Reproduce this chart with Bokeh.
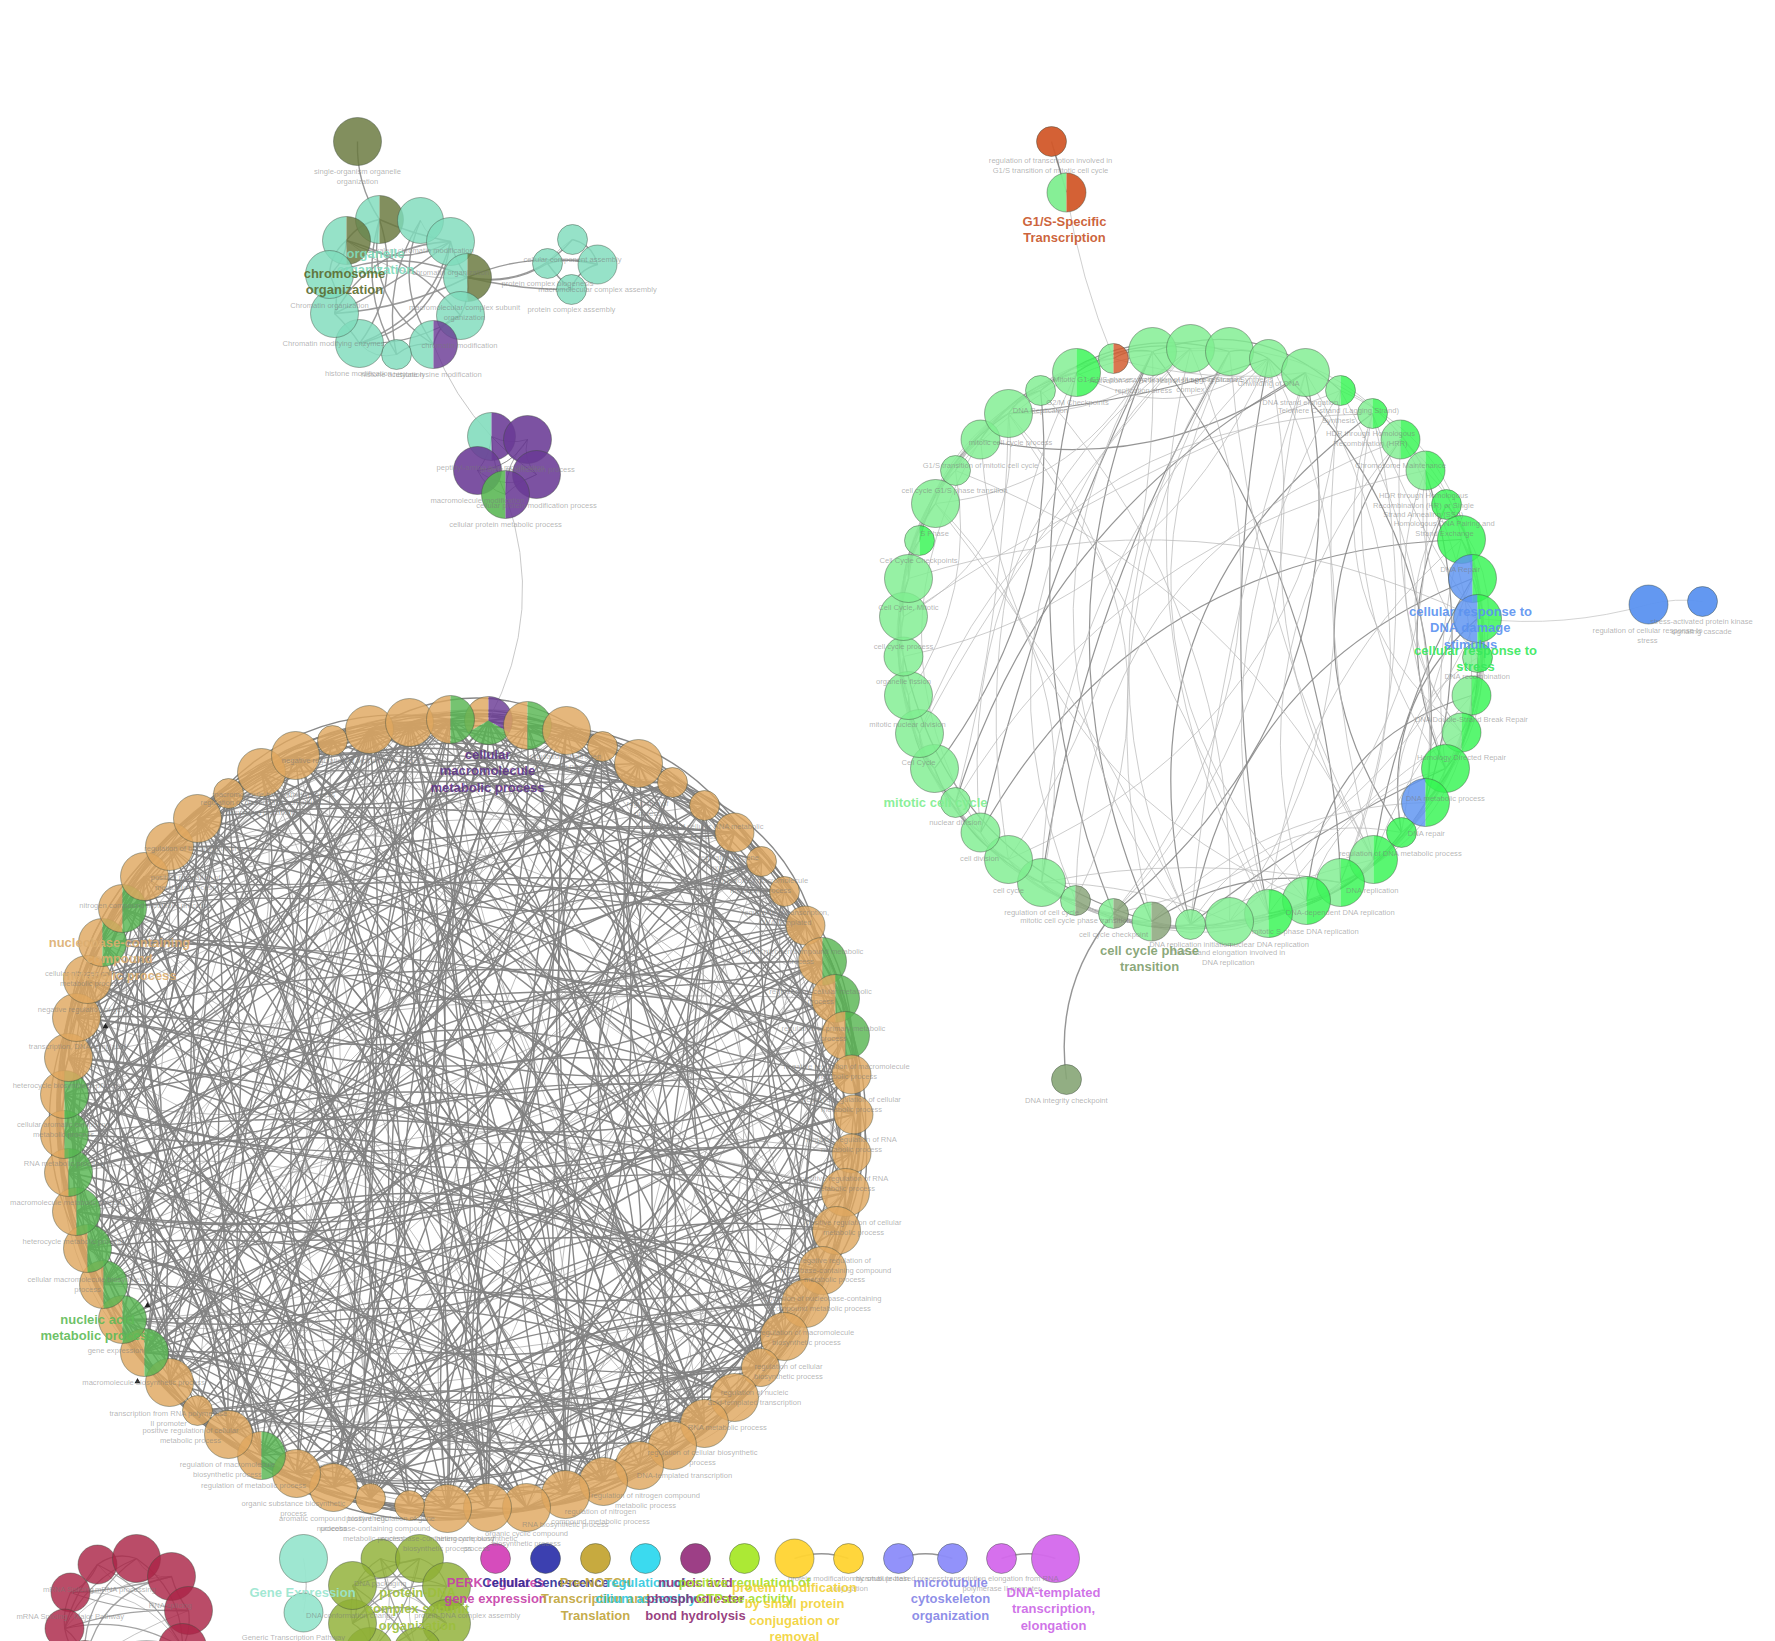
from math import pi, hypot
from bokeh.plotting import figure
from bokeh.models import Range1d, ColumnDataSource
from bokeh.core.properties import value
from bokeh.embed import file_html
from bokeh.resources import INLINE

TAN = "#dfa75f"; GRN = "#58b652"; PUR = "#6a3a95"; LGT = "#7fee90"; BRT = "#35f552"
BLU = "#5b92f0"; GRY = "#86a276"; ORG = "#d2582a"; MNT = "#7fdcbc"; OLV = "#66763a"

TAN_X = [488,527,566,602,638,672,704,734,761,784,805,822,835,845,851,853,851,845,836,822,805,784,760,734,704,672,639,603,565,526,487,447,409,370,333,296,261,228,197,169,144,122,103,87,76,68,64,64,68,76,87,102,122,144,169,197,228,261,295,332,369,409,450]
TAN_Y = [720,725,730,746,763,782,805,832,861,891,925,961,998,1035,1074,1114,1153,1192,1230,1270,1303,1336,1367,1397,1423,1445,1465,1481,1494,1507,1507,1508,1505,1498,1487,1473,1455,1434,1410,1382,1352,1319,1284,1248,1211,1172,1134,1094,1057,1017,979,942,908,876,846,818,793,772,755,740,729,722,719]
TAN_R = [24,24,24,15,24,15,15,19.5,15,15,19.5,24,24,24,19.5,19.5,19.5,24,24,24,24,24,19,24,24,24,24,24,24,24,24,24,15,15,24,24,24,24,15,24,24,24,24,24,24,24,24,24,24,24,24,24,24,24,24,24,15,24,24,15,24,24,24]
TAN_PIES = {0:[TAN,GRN,PUR],1:[TAN,GRN],11:[TAN,GRN],12:[TAN,GRN],13:[TAN,GRN],36:[TAN,GRN],40:[TAN,GRN],41:[TAN,GRN],42:[TAN,GRN],43:[TAN,GRN],44:[TAN,GRN],45:[TAN,GRN],46:[TAN,GRN],47:[TAN,GRN],51:[TAN,GRN],52:[TAN,GRN],62:[TAN,GRN]}
TAN_LINKS = [
[7,19,33,41,52,24,14,9,28,47],[12,27,38,50,6,17,31,44,59],[9,14,23,30,36,48,53,61,19,41,5,27],[13,21,29,37,44,56,60,25,10,34,18],[10,18,26,35,42,51,58,31,15,47,22],[11,20,28,39,46,55,16,33,62,24],[15,24,32,40,49,57,12,36,8,29],[17,25,34,43,54,61,21,38,10],[19,30,37,45,52,60,14,27,11],[16,22,31,41,50,59,26,36,13],
[18,27,35,44,53,62,23,39,14],[20,29,38,47,56,15,33,24,43],[21,30,40,49,58,17,35,26],[23,32,42,51,60,19,37,28,15],[24,33,41,50,59,20,28,45,18],[26,35,43,52,61,18,30,47],[27,36,45,54,62,22,39,19],[28,37,46,55,23,40,20,32],[29,38,48,57,25,42,21],[31,40,50,59,26,44,22],
[32,41,51,60,27,46,24,37],[33,42,53,61,28,48,25],[34,44,54,62,30,49,26],[35,45,56,31,51,28,41],[36,47,57,33,52,27,42],[38,48,58,34,54,29],[39,49,59,35,55,30,44],[40,50,60,36,57,31],[41,52,61,37,58,32,46],[42,53,62,38,59,33],
[43,54,39,60,34,48],[44,55,40,61,35,50],[45,56,41,62,36],[46,57,42,37,52],[47,58,43,38,55],[48,59,44,39,53],[49,60,45,40,56],[50,61,46,41,58],[51,62,47,42,57],[52,48,43,60],
[53,49,44,61],[54,50,45,62],[55,51,46,59],[56,52,47,60],[57,53,48,61],[58,54,49],[59,55,50,62],[60,56,51],[61,57,52],[62,58,53],
[59,54],[60,55],[61,56],[62,57],[58,60],[59,61],[60,62],[61],[62],[],[],[],[]]
TAN_LINKS_B = [
[3,5,58,60,16,37,44,26],[4,8,55,62,20,40,11,35],[6,10,56,59,22,43,33],[7,12,54,61,24,39,47,30],[8,14,57,62,28,45,37],[9,17,53,60,31,41,49],[10,19,51,58,35,44,27],[11,22,49,62,30,46,52],[12,24,47,56,33,40,55],[13,26,45,54,36,62,42],
[15,28,43,52,37,48,58],[16,30,41,50,39,57],[17,33,39,48,44,60],[18,35,38,46,53,61],[19,36,37,44,55,62],[20,39,34,42,57,25],[21,41,33,40,59,29],[22,43,31,38,61,27],[23,45,29,36,62,33],[24,47,28,35,54,41],
[25,49,30,34,56,43],[26,51,29,38,58,45],[27,52,31,39,60,47],[28,55,32,40,62,49],[29,58,34,43,50,61],[30,60,37,45,53],[31,61,36,47,55],[32,62,38,49,56],[33,60,40,50,57],[34,59,43,51,54],
[35,58,45,52,56],[36,57,47,53,60],[37,55,48,54,61],[38,56,49,53,62],[39,54,50,57,60],[40,52,51,58,61],[41,53,48,59,62],[42,51,46,60],[43,50,45,61],[44,49,55,62],
[45,48,57,60],[46,49,58,61],[47,50,56,62],[48,52,57],[49,53,59],[50,54,60],[51,55,61],[52,56,62],[53,59],[54,60],
[55,61],[56,62],[57,59],[60,62],[61],[62],[61],[],[],[],[],[],[]]

GREEN_X = [1152,1190,1229,1268,1305,1340,1372,1400,1425,1446,1461,1472,1477,1477,1471,1461,1445,1425,1401,1373,1340,1306,1268,1229,1190,1151,1113,1075,1041,1008,980,955,934,919,908,903,903,908,919,935,955,980,1008,1040,1076,1113]
GREEN_Y = [351,348,351,358,372,390,413,439,470,504,539,578,618,657,695,732,768,802,832,859,882,900,913,921,924,921,913,900,882,859,832,802,768,733,695,656,616,578,540,503,470,439,413,390,372,358]
GREEN_R = [24,24,24,19,24,15,15,19.5,19.5,15,24,24,24,15,19.5,19.5,24,24,15,24,24,24,24,24,15,19.5,15,15,24,24,19.5,15,24,24,24,19.5,24,24,15,24,15,19.5,24,15,24,15]
GREEN_PIES = {5:[LGT,BRT],6:[LGT,BRT],7:[LGT,BRT],8:[LGT,BRT],9:[BRT],10:[BRT],11:[BLU,BRT],12:[BLU,BRT],13:[LGT,BRT],14:[LGT,BRT],15:[LGT,BRT],16:[BRT],17:[BLU,BRT],18:[BRT],19:[LGT,BRT],20:[LGT,BRT],21:[LGT,BRT],22:[LGT,BRT],25:[LGT,GRY],26:[LGT,GRY],27:[LGT,GRY],38:[LGT,BRT],44:[LGT,BRT],45:[LGT,ORG]}
GREEN_LINKS = [
[20,24,30,5],[22,27,33,8],[21,25,19,3],[17,23,28,35],[20,26,31,8],[19,22,29,36],[16,20,24,33],[14,18,21,27],[15,13,23,31],[12,16,14],
[14,17,12,22,30],[13,15,19,24],[14,16,18,26,37],[15,17],[16,19,21],[17,18,23],[18,20],[19,21,25],[20,22],[21,23,40],
[22,24,28],[23,26,41],[24,29,42],[25,27,43],[26,39],[26,27,35],[27,28,44],[28,29,42],[29,30,39],[30,31,44],
[31,33,41],[32,34,42],[33,35,43],[34,36],[35,37,40],[36,38,41],[37,39,42],[38,40,44],[39,41],[40,42,0],
[41,43,2],[42,44,4],[43,1,3],[44,0],[45,1],[0]]
GREEN_LINKS_B = [
[25,29],[26,30],[24,28],[22,26],[19,24],[11,17],[12,15],[10,16],[11,17],[11,15],
[13,16],[15,18],[15,17],[17,18],[18,20],[19,22],[21,24],[20,23],[24],[24],
[25],[25],[26],[28],[28],[29],[30],[31],[32],[33],
[34],[35],[36],[37],[38],[39],[40],[41],[42],[43],[44],[45],[45],[2],[3],[4]]

MINT_X = [379,346,420,450,467,460,433,396,359,334,329,357,572,547,597,571]
MINT_Y = [219,240,220,241,277,315,344,354,343,313,274,141,239,263,264,289]
MINT_R = [24,24,23,24,24,24,24,15,24,24,24,24,15,15,19.5,15]
MINT_PIES = {0:[MNT,OLV],1:[MNT,OLV],4:[MNT,OLV],6:[MNT,PUR],11:[OLV]}
MINT_LINKS = [[11,8,1,3,6,7],[4,5,3,10],[3,6,7],[4,8,9],[5,12,13,14,15,10],[6,8],[7],[8],[9,3],[10,3,4],[1],[],[13,14],[14,15],[15],[]]

PURPLE_X = [491,527,477,536,505]
PURPLE_Y = [436,439,470,474,494]
PURPLE_R = [24,24,24,24,24]
PURPLE_PIES = {0:[MNT,PUR],1:[PUR],2:[PUR],3:[PUR],4:[GRN,PUR]}
PURPLE_LINKS = [[1,2,3,4],[2,3,4],[3,4],[4],[]]

G1S_X = [1051,1066]; G1S_Y = [141,192]; G1S_R = [15,19.5]; G1S_PIES = {0:[ORG],1:[LGT,ORG]}
BLUE_X = [1648,1702]; BLUE_Y = [604,601]; BLUE_R = [19.5,15]; BLUE_PIES = {0:[BLU],1:[BLU]}
CHECK_X = [1066]; CHECK_Y = [1079]; CHECK_R = [15]; CHECK_PIES = {0:["#86a576"]}

ROW_X = [495,545,595,645,695,744,794,848,898,952,1001,1055]
ROW_Y = [1558,1558,1558,1558,1558,1558,1558,1558,1558,1558,1558,1558]
ROW_R = [15,15,15,15,15,15,19.5,15,15,15,15,24]
ROW_COL = ["#d442b8","#3236ac","#c4a535","#30d8ee","#98357f","#a8e82a","#ffd432","#ffd432","#8c8cfa","#8c8cfa","#d468ec","#d468ec"]
ROW_LINKS = [(6,7),(8,9),(10,11)]

CRIM_X = [70,97,136,171,188,182,84,64]
CRIM_Y = [1592,1564,1558,1576,1610,1647,1664,1628]
CRIM_R = [19.5,19.5,24,24,24,24,24,19.5]
CRIM_LINKS = [[1,3,4,5,6],[2,4,5,7],[3,5,6,7],[4,6,7],[5,6,7],[6,7],[7],[]]
CRIM_COL = "#ab2447"

OLIVE_X = [380,419,446,446,417,369,352,352]
OLIVE_Y = [1558,1558,1586,1623,1651,1651,1623,1585]
OLIVE_R = [19.5,24,24,24,24,24,24,24]
OLIVE_LINKS = [[1,3,4,5,6],[2,4,5,6,7],[3,5,6,7],[4,6,7],[5,7],[6,7],[7],[]]
OLIVE_COL = "#8fb034"

GENE_X = [303,303]; GENE_Y = [1558,1612]; GENE_R = [24,19.5]; GENE_COL = "#99e6cf"

ARROW_X = [105,147,137]; ARROW_Y = [1026,1305,1381]

GRAY_LABELS = [
("single-organism organelle\norganization",357,171),("covalent chromatin modification",420,250),("chromatin organization",450,272),("Chromatin organization",329,305),("macromolecular complex subunit\norganization",464,307),("Chromatin modifying enzymes",333,343),("chromatin modification",459,345),("histone modification",358,373),("histone acetylation",392,374),("histone lysine modification",437,374),
("cellular component assembly",572,259),("protein complex biogenesis",547,283),("macromolecular complex assembly",597,289),("protein complex assembly",571,309),
("peptidyl-amino acid modification",490,467),("protein modification process",527,469),("macromolecule modification",477,500),("cellular protein modification process",536,505),("cellular protein metabolic process",505,524),
("regulation of transcription involved in\nG1/S transition of mitotic cell cycle",1050,160),
("negative regulation of biosynthetic process",353,760),("macromolecule biosynthetic process",273,794),("regulation of nucleobase-containing\ncompound metabolic",260,802),("regulation of biosynthetic process",200,848),("positive regulation of\nmetabolic process",185,877),("nitrogen compound metabolic process",143,905),("cellular nitrogen compound\nmetabolic process",90,973),("negative regulation of gene",83,1009),("transcription, DNA-templated",77,1046),("heterocycle biosynthetic process",67,1085),("cellular aromatic compound\nmetabolic process",63,1124),("RNA metabolic process",63,1163),
("macromolecule metabolic process",67,1202),("heterocycle metabolic process",73,1241),("cellular macromolecule biosynthetic\nprocess",87,1279),("gene expression",115,1350),("macromolecule biosynthetic process",143,1382),("transcription from RNA polymerase\nII promoter",168,1413),("positive regulation of cellular\nmetabolic process",190,1430),("regulation of macromolecule\nbiosynthetic process",227,1464),("regulation of metabolic process",253,1485),("organic substance biosynthetic\nprocess",293,1503),("aromatic compound biosynthetic\nprocess",333,1518),("nucleobase-containing compound\nmetabolic process",373,1528),("positive regulation of gene",390,1518),("nucleobase-containing compound\nbiosynthetic process",437,1538),
("regulation of nitrogen\nmetabolic process",565,756),("regulation of\nprocess",647,803),("regulation of cellular RNA metabolic\nprocess",703,826),("regulation of gene\nexpression",728,857),("regulation of macromolecule\nmetabolic process",760,880),("regulation of transcription,\nDNA-templated",785,912),("cellular nitrogen compound metabolic\nprocess",800,951),("regulation of cellular metabolic\nprocess",820,991),("regulation of primary metabolic\nprocess",833,1028),("negative regulation of macromolecule\nmetabolic process",846,1066),("negative regulation of cellular\nmetabolic process",851,1099),("negative regulation of RNA\nmetabolic process",851,1139),("positive regulation of RNA\nmetabolic process",844,1178),("positive regulation of cellular\nmetabolic process",853,1222),("negative regulation of\nnucleobase-containing compound\nmetabolic process",834,1260),("regulation of nucleobase-containing\ncompound metabolic process",821,1298),("regulation of macromolecule\nbiosynthetic process",806,1332),("regulation of cellular\nbiosynthetic process",788,1366),("regulation of nucleic\nacid-templated transcription",754,1392),("RNA metabolic process",727,1427),("regulation of cellular biosynthetic\nprocess",702,1452),("DNA-templated transcription",684,1475),("regulation of nitrogen compound\nmetabolic process",645,1495),("regulation of nitrogen\ncompound metabolic process",600,1511),("RNA biosynthetic process",565,1524),("organic cyclic compound\nbiosynthetic process",526,1533),("heterocycle biosynthetic\nprocess",476,1538),
("protein modification by small protein\nconjugation",848,1578),("microtubule-based process",898,1578),("transcription elongation from RNA\npolymerase II promoter",1001,1578),
("Mitotic G1-G1/S phases",1093,379),("Activation of ATR in response to\nreplication stress",1143,380),("Activation of the pre-replicative\ncomplex",1190,379),("Lagging Strand Synthesis",1229,379),("Unwinding of DNA",1268,383),("G2/M Checkpoints",1077,402),("DNA Replication",1040,410),("mitotic cell cycle process",1010,442),("G1/S transition of mitotic cell cycle",980,465),("cell cycle G1/S phase transition",954,490),("S Phase",934,533),("Cell Cycle Checkpoints",918,560),("Cell Cycle, Mitotic",908,607),("cell cycle process",903,646),("organelle fission",903,681),("mitotic nuclear division",907,724),("Cell Cycle",918,762),("nuclear division",955,822),("cell division",979,858),("cell cycle",1008,890),("regulation of cell cycle",1041,912),("mitotic cell cycle phase transition",1075,920),("cell cycle checkpoint",1113,934),("DNA replication initiation",1190,944),("nuclear DNA replication",1269,944),("DNA strand elongation involved in\nDNA replication",1228,952),("mitotic S-phase DNA replication",1305,931),("DNA-dependent DNA replication",1340,912),("DNA replication",1372,890),("regulation of DNA metabolic process",1400,853),("DNA repair",1426,833),("DNA metabolic process",1445,798),("Homology Directed Repair",1461,757),("DNA Double-Strand Break Repair",1471,719),("DNA recombination",1477,676),("DNA Repair",1460,569),("Homologous DNA Pairing and\nStrand Exchange",1444,523),("HDR through Homologous\nRecombination (HR) or Single\nStrand Annealing (SSA)",1423,495),("Chromosome Maintenance",1400,465),("HDR through Homologous\nRecombination (HRR)",1370,433),("Telomere C-strand (Lagging Strand)\nSynthesis",1338,410),("DNA strand elongation",1300,402),
("regulation of cellular response to\nstress",1647,630),("stress-activated protein kinase\nsignaling cascade",1701,621),("DNA integrity checkpoint",1066,1100),
("mRNA Splicing",68,1589),("mRNA processing",125,1589),("RNA splicing",170,1605),("mRNA Splicing - Major Pathway",70,1616),("DNA packaging",380,1583),("DNA conformation change",350,1615),("protein-DNA complex assembly",467,1615),("Generic Transcription Pathway",293,1637),
]

BIG_LABELS = [
("organelle\norganization",375,253,MNT),("chromosome\norganization",344,273,"#5c6c30"),("G1/S-Specific\nTranscription",1064,221,"#c8552a"),
("cellular\nmacromolecule\nmetabolic process",487,754,"#5f3488"),("nucleobase-containing\ncompound\nmetabolic process",119,942,"#dcae70"),("nucleic acid\nmetabolic process",97,1319,"#5fbb58"),
("mitotic cell cycle",935,802,"#7fee90"),("cell cycle phase\ntransition",1149,950,"#7fa06e"),("cellular response to\nDNA damage\nstimulus",1470,611,"#5b92f0"),("cellular response to\nstress",1475,650,"#38e85c"),
("Gene Expression",302,1592,"#99e6cf"),("protein-DNA\ncomplex subunit\norganization",417,1592,"#9cbf3c"),
("PERK regulates\ngene expression",495,1582,"#c63fa8"),("Cellular Senescence",545,1582,"#2e2e96"),("Pre-NOTCH\nTranscription and\nTranslation",595,1582,"#bfa43a"),("regulation of\ncilium assembly",645,1582,"#30c8de"),("nucleic acid\nphosphodiester\nbond hydrolysis",695,1582,"#8f2f75"),("positive regulation of\nGTPase activity",744,1582,"#a4de2a"),("protein modification\nby small protein\nconjugation or\nremoval",794,1587,"#f2d238"),("microtubule\ncytoskeleton\norganization",950,1582,"#8484e6"),("DNA-templated\ntranscription,\nelongation",1053,1592,"#cc66e6"),
]

p = figure(width=1775, height=1641, x_range=Range1d(0, 1775), y_range=Range1d(1641, 0),
           toolbar_location=None, output_backend="svg", min_border=0, outline_line_color=None,
           background_fill_color="white", border_fill_color="white")
p.axis.visible = False
p.grid.visible = False

BOWS = [0.28, -0.16, 0.10, 0.34, -0.26, 0.20, 0.06, -0.30, 0.22]

def curve(x0, y0, x1, y1, b):
    d = hypot(x1 - x0, y1 - y0) or 1
    nx, ny = -(y1 - y0) / d, (x1 - x0) / d
    return (x0 + x1) / 2 + nx * d * b, (y0 + y1) / 2 + ny * d * b

def draw_links(xs, ys, links, heavy, light, hw=1.5, lw=0.8, ha=0.9, la=0.8, round_center=None):
    groups = {True: [[], [], [], [], [], []], False: [[], [], [], [], [], []]}
    for i, targets in enumerate(links):
        for j in targets:
            b = BOWS[(i * 3 + j * 5) % len(BOWS)]
            x0, y0, x1, y1 = xs[i], ys[i], xs[j], ys[j]
            if round_center:
                d = hypot(x1 - x0, y1 - y0)
                mx, my = (x0 + x1) / 2, (y0 + y1) / 2
                cxx, cyy = curve(x0, y0, x1, y1, 0.2)
                out = hypot(cxx - round_center[0], cyy - round_center[1]) > hypot(mx - round_center[0], my - round_center[1])
                if d < 0.55 * round_center[2]:
                    b = 0.2 if out else -0.2
            cx, cy = curve(x0, y0, x1, y1, b)
            g = groups[(i + j) % 5 != 0]
            for lst, v in zip(g, (x0, y0, x1, y1, cx, cy)):
                lst.append(v)
    for is_heavy, col, w, a in ((False, light, lw, la), (True, heavy, hw, ha)):
        g = groups[is_heavy]
        p.quadratic(x0=g[0], y0=g[1], x1=g[2], y1=g[3], cx=g[4], cy=g[5], line_color=col, line_width=w, line_alpha=a)

def link(xa, ya, xb, yb, b, col, w):
    cx, cy = curve(xa, ya, xb, yb, b)
    p.quadratic(x0=[xa], y0=[ya], x1=[xb], y1=[yb], cx=[cx], cy=[cy], line_color=col, line_width=w, line_alpha=0.9)

def draw_nodes(xs, ys, rs, pies, default, alpha=0.82):
    for i, (x, y, r) in enumerate(zip(xs, ys, rs)):
        cols = pies.get(i, [default])
        n = len(cols)
        if n == 1:
            p.circle(x=[x], y=[y], radius=[r], fill_color=cols[0], fill_alpha=alpha, line_color=None)
        else:
            for k, c in enumerate(cols):
                a0 = pi / 2 + 2 * pi * k / n
                p.wedge(x=[x], y=[y], radius=[r], start_angle=[a0], end_angle=[a0 + 2 * pi / n],
                        direction="anticlock", fill_color=c, fill_alpha=alpha, line_color=None)
        p.circle(x=[x], y=[y], radius=[r], fill_color=None, line_color="#3c4a3c", line_alpha=0.55, line_width=0.8)

def draw_labels(items, size, style, lh, color=None, alpha=0.75):
    tx, ty, tt, tc = [], [], [], []
    for it in items:
        text, x, y = it[0], it[1], it[2]
        for k, line in enumerate(text.split("\n")):
            tt.append(line); tx.append(x); ty.append(y + k * lh); tc.append(it[3] if len(it) > 3 else color)
    src = ColumnDataSource(dict(x=tx, y=ty, t=tt, c=tc))
    p.text(x="x", y="y", text="t", source=src, text_color="c", text_alpha=alpha, text_align="center",
           text_baseline="middle", text_font=value("Liberation Sans"), text_font_size=size, text_font_style=style)

# edges
draw_links(TAN_X, TAN_Y, [a + b for a, b in zip(TAN_LINKS, TAN_LINKS_B)], "#828282", "#a8a8a8", 1.4, 0.9, 0.95, 0.85, (458, 1113, 394))
draw_links(GREEN_X, GREEN_Y, [a + b for a, b in zip(GREEN_LINKS, GREEN_LINKS_B)], "#b8b8b8", "#8a8a8a", 0.8, 1.2, 0.9, 0.9, (1190, 635, 287))
draw_links(MINT_X, MINT_Y, MINT_LINKS, "#8f8f8f", "#b0b0b0", 1.4, 1.0)
draw_links(PURPLE_X, PURPLE_Y, PURPLE_LINKS, "#444444", "#666666", 1.0, 1.0, 0.6, 0.6)
draw_links(CRIM_X, CRIM_Y, CRIM_LINKS, "#999999", "#b5b5b5", 1.3, 1.0)
draw_links(OLIVE_X, OLIVE_Y, OLIVE_LINKS, "#999999", "#b5b5b5", 1.3, 1.0)

link(MINT_X[6], MINT_Y[6], PURPLE_X[0], PURPLE_Y[0], 0.10, "#b8b8b8", 0.9)
link(PURPLE_X[4], PURPLE_Y[4], TAN_X[0], TAN_Y[0], -0.22, "#bcbcbc", 0.9)
link(G1S_X[0], G1S_Y[0], G1S_X[1], G1S_Y[1], 0.0, "#777777", 1.4)
link(G1S_X[1], G1S_Y[1], GREEN_X[45], GREEN_Y[45], 0.06, "#c4c4c4", 0.9)
link(GREEN_X[12], GREEN_Y[12], BLUE_X[0], BLUE_Y[0], 0.10, "#c8c8c8", 0.9)
link(BLUE_X[0], BLUE_Y[0], BLUE_X[1], BLUE_Y[1], -0.1, "#c8c8c8", 0.9)
link(GREEN_X[26], GREEN_Y[26], CHECK_X[0], CHECK_Y[0], 0.22, "#8a8a8a", 1.4)
link(GENE_X[0], GENE_Y[0], GENE_X[1], GENE_Y[1], -0.1, "#b0b0b0", 1.0)
for a, b in ROW_LINKS:
    link(ROW_X[a], ROW_Y[a], ROW_X[b], ROW_Y[b], -0.18, "#8a8a8a", 1.5)

# nodes
draw_nodes(MINT_X, MINT_Y, MINT_R, MINT_PIES, MNT)
draw_nodes(PURPLE_X, PURPLE_Y, PURPLE_R, PURPLE_PIES, PUR, 0.88)
draw_nodes(G1S_X, G1S_Y, G1S_R, G1S_PIES, ORG, 0.95)
draw_nodes(BLUE_X, BLUE_Y, BLUE_R, BLUE_PIES, BLU, 0.95)
draw_nodes(CHECK_X, CHECK_Y, CHECK_R, CHECK_PIES, GRY, 0.9)
draw_nodes(TAN_X, TAN_Y, TAN_R, TAN_PIES, TAN)
draw_nodes(GREEN_X, GREEN_Y, GREEN_R, GREEN_PIES, LGT)
draw_nodes(CRIM_X, CRIM_Y, CRIM_R, {}, CRIM_COL)
draw_nodes(OLIVE_X, OLIVE_Y, OLIVE_R, {}, OLIVE_COL)
draw_nodes(GENE_X, GENE_Y, GENE_R, {}, GENE_COL, 0.95)
for i, c in enumerate(ROW_COL):
    draw_nodes([ROW_X[i]], [ROW_Y[i]], [ROW_R[i]], {}, c, 0.95)

p.scatter(x=ARROW_X, y=ARROW_Y, marker="triangle", size=6, fill_color="#222222", line_color=None)

# labels
draw_labels(GRAY_LABELS, "7.6px", "normal", 9.6, color="#777777", alpha=0.55)
draw_labels(BIG_LABELS, "13px", "bold", 16.4, alpha=0.92)

open("out.html", "w").write(file_html(p, INLINE))
